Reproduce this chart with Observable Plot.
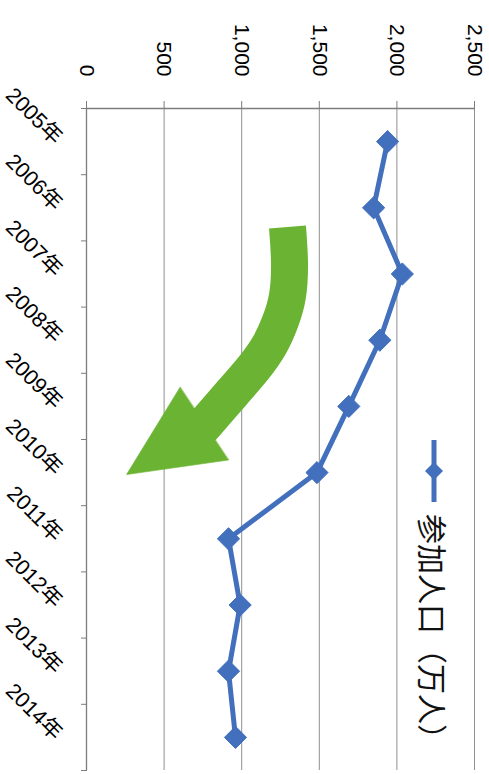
<!DOCTYPE html>
<html>
<head>
<meta charset="utf-8">
<script src="https://cdn.jsdelivr.net/npm/d3@7"></script>
<script src="https://cdn.jsdelivr.net/npm/@observablehq/plot@0.6"></script>
<style>
  html, body { margin: 0; padding: 0; background: #ffffff; overflow: hidden; }
  #frame {
    position: absolute; left: 0; top: 0;
    width: 774px; height: 489px;
    transform-origin: 0 0;
    transform: translate(489px, 0) rotate(90deg);
    font-family: "Liberation Sans", "Noto Sans CJK JP", sans-serif;
  }
  #legend {
    position: absolute; left: 440px; top: 55px;
    transform: translateY(-50%);
    display: flex; align-items: center; gap: 12px;
    font-size: 30px; color: #111; white-space: nowrap;
  }
</style>
</head>
<body>
<div id="frame"><div id="legend"></div></div>
<script>
// Annual participants, in units of 10,000 people
const years = [2005, 2006, 2007, 2008, 2009, 2010, 2011, 2012, 2013, 2014];
const participants = [1940, 1850, 2035, 1890, 1690, 1485, 915, 990, 915, 960];
const valueTicks = [0, 500, 1000, 1500, 2000, 2500];
const yearSuffix = "年";
const seriesName = "参加人口（万人）";

// Downward trend arrow, in (year, value) space.
// Body: centre line of a thick curved band, from the tail to inside the head.
const bodyYear  = [2006.29, 2006.83, 2007.33, 2007.71, 2008.07, 2008.42, 2008.79, 2009.26, 2009.43];
const bodyValue = [1295, 1308, 1295, 1250, 1180, 1076, 941, 767, 700];
// Head: lower back corner, tip, upper back corner
const headYear  = [2009.81, 2010.03, 2008.71];
const headValue = [915, 258, 603];

const blue = "#4270bd";
const green = "#6bb433";
const gridGray = "#8f8f8f";
const axisGray = "#7c7c7c";
const font = "'Liberation Sans', 'Noto Sans CJK JP', sans-serif";

const rows = years.map((year, i) => ({year, value: participants[i]}));
const bodyRows = bodyYear.map((year, i) => ({year, value: bodyValue[i]}));
const headRows = headYear.map((year, i) => ({year, value: headValue[i]}));
// category boundaries: ticks sit between the years
const bounds = years.map(y => y - 0.5).concat([years[years.length - 1] + 0.5]);

const chart = Plot.plot({
  width: 774,
  height: 489,
  marginTop: 14,
  marginBottom: 87,
  marginLeft: 108,
  marginRight: 4,
  x: {type: "linear", domain: [bounds[0], bounds[bounds.length - 1]], axis: null},
  y: {domain: [0, 2500], axis: null},
  style: {fontFamily: font, background: "transparent", overflow: "visible", color: "#111"},
  marks: [
    Plot.ruleY(valueTicks.slice(1), {stroke: gridGray, strokeWidth: 1}),
    Plot.ruleY([0], {stroke: axisGray, strokeWidth: 1.3}),
    Plot.ruleX([bounds[0]], {y1: 0, y2: 2500, stroke: axisGray, strokeWidth: 1.3}),
    Plot.axisY(valueTicks, {
      anchor: "left", tickSize: 7, tickPadding: 25, stroke: axisGray, fill: "#000",
      tickFormat: d3.format(","), fontSize: 21, label: null
    }),
    Plot.axisX(bounds, {
      anchor: "bottom", tickSize: 6, stroke: axisGray, tickFormat: () => "", label: null
    }),
    Plot.text(years, {
      x: d => d, frameAnchor: "bottom", text: d => `${d}${yearSuffix}`,
      rotate: -45, textAnchor: "end", lineAnchor: "middle",
      dx: -1, dy: 28, fontSize: 21.5, fill: "#000"
    }),
    Plot.line(bodyRows, {x: "year", y: "value", stroke: green, strokeWidth: 37, strokeLinecap: "butt", curve: "natural"}),
    Plot.line(headRows, {x: "year", y: "value", fill: green, stroke: green, strokeWidth: 0.6, curve: "linear-closed"}),
    Plot.line(rows, {x: "year", y: "value", stroke: blue, strokeWidth: 5, strokeLinejoin: "round"}),
    Plot.dot(rows, {x: "year", y: "value", symbol: "diamond2", r: 10, fill: blue, stroke: blue, strokeWidth: 1})
  ]
});

const frame = document.getElementById("frame");
frame.insertBefore(chart, frame.firstChild);
chart.style.position = "absolute";
chart.style.left = "0";
chart.style.top = "0";

// legend: sample line with a diamond marker, then the series name
const legend = document.getElementById("legend");
const ns = "http://www.w3.org/2000/svg";
const key = document.createElementNS(ns, "svg");
key.setAttribute("width", 62);
key.setAttribute("height", 22);
const keyLine = document.createElementNS(ns, "line");
keyLine.setAttribute("x1", 0); keyLine.setAttribute("x2", 62);
keyLine.setAttribute("y1", 11); keyLine.setAttribute("y2", 11);
keyLine.setAttribute("stroke", blue); keyLine.setAttribute("stroke-width", 5);
const keyMark = document.createElementNS(ns, "path");
keyMark.setAttribute("d", "M31,2L40,11L31,20L22,11Z");
keyMark.setAttribute("fill", blue);
key.appendChild(keyLine);
key.appendChild(keyMark);
const label = document.createElement("span");
label.textContent = seriesName;
legend.appendChild(key);
legend.appendChild(label);
</script>
</body>
</html>
